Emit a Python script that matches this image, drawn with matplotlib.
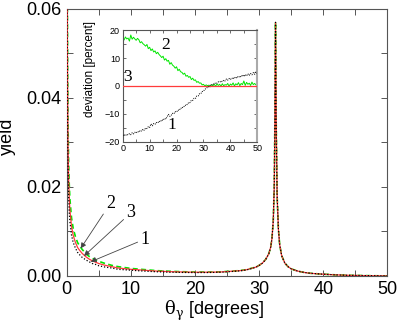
import numpy as np
import matplotlib
matplotlib.use("Agg")
import matplotlib.pyplot as plt
from matplotlib.ticker import MultipleLocator

plt.rcParams['font.family'] = ['Liberation Sans', 'DejaVu Sans']
plt.rcParams['mathtext.fontset'] = 'custom'
plt.rcParams['mathtext.rm'] = 'DejaVu Serif'
plt.rcParams['mathtext.it'] = 'DejaVu Serif'

# ---------------- main-panel data ----------------
theta = [0.05, 0.1, 0.15, 0.2, 0.3, 0.4, 0.5, 0.75, 1.0, 1.35, 1.7, 2.0, 2.4, 3.0, 3.5,
         4.0, 4.5, 5.0, 6.0, 7.0, 8.0, 10.0, 12.0, 14.0, 16.0, 18.0, 20.0, 22.0, 24.0,
         26.0, 27.0, 28.0, 29.0, 29.5, 30.0, 30.5, 31.0, 31.5, 31.8, 32.0, 32.2, 32.35,
         32.45, 32.55, 32.65, 32.8, 33.0, 33.2, 33.5, 34.0, 34.5, 35.0, 36.0, 37.0, 38.0,
         40.0, 42.0, 44.0, 46.0, 48.0, 50.0]

yield3 = [0.075, 0.055, 0.040, 0.030, 0.022, 0.0175, 0.0148, 0.0112, 0.0092, 0.0076, 0.0064,
          0.0058, 0.0051, 0.0043, 0.0038, 0.0034, 0.0031, 0.0028, 0.0024, 0.0021, 0.0018,
          0.0015, 0.0013, 0.0011, 0.00098, 0.0009, 0.00085, 0.00085, 0.0009, 0.0011, 0.0012,
          0.0014, 0.0018, 0.0020, 0.0024, 0.0029, 0.0037, 0.0050, 0.0065, 0.0085, 0.0125,
          0.020, 0.035, 0.057, 0.035, 0.018, 0.0105, 0.0070, 0.0046, 0.0029, 0.0021, 0.0016,
          0.0011, 0.0008, 0.0006, 0.0004, 0.00025, 0.00015, 0.0001, 0.00005, 0.00002]

yield2 = [0.088, 0.064, 0.047, 0.035, 0.0257, 0.0205, 0.0173, 0.0131, 0.0108, 0.0089, 0.0075,
          0.0068, 0.0060, 0.0050, 0.0044, 0.0040, 0.0036, 0.0033, 0.0028, 0.0024, 0.0021,
          0.0017, 0.00145, 0.0012, 0.00106, 0.00096, 0.0009, 0.00089, 0.00093, 0.00112, 0.00122,
          0.00142, 0.00182, 0.00202, 0.0024, 0.0029, 0.0037, 0.0050, 0.0065, 0.0085, 0.0125,
          0.020, 0.035, 0.057, 0.035, 0.018, 0.0105, 0.0070, 0.0046, 0.0029, 0.0021, 0.0016,
          0.0011, 0.0008, 0.0006, 0.0004, 0.00025, 0.00015, 0.0001, 0.00005, 0.00002]

yield1 = [0.062, 0.0453, 0.033, 0.0247, 0.0181, 0.0144, 0.0122, 0.0092, 0.0076, 0.0063, 0.0053,
          0.0048, 0.0042, 0.0036, 0.0032, 0.0028, 0.0026, 0.0023, 0.0020, 0.0018, 0.0015,
          0.0013, 0.0011, 0.00095, 0.00085, 0.0008, 0.00077, 0.00078, 0.00084, 0.00104, 0.00115,
          0.00135, 0.00175, 0.00196, 0.00237, 0.00287, 0.00367, 0.00497, 0.0065, 0.0085, 0.0125,
          0.020, 0.035, 0.057, 0.035, 0.018, 0.0105, 0.0070, 0.0046, 0.0029, 0.0021, 0.0016,
          0.0011, 0.0008, 0.0006, 0.0004, 0.00025, 0.00015, 0.0001, 0.00005, 0.00002]

xticks_main = [0, 10, 20, 30, 40, 50]
yticks_main = [0.00, 0.02, 0.04, 0.06]

# ---------------- inset data ----------------
theta_dev = list(np.linspace(0, 50, 101))
dev2 = [17.4, 16.5, 17.6, 16.9, 17.2, 16.1, 18.3, 16.8, 17.5, 16.9, 16.4, 17.1, 16.6, 15.5,
        15.9, 15.2, 14.8, 14.3, 14.9, 13.4, 13.9, 12.7, 13.3, 12.2, 12.6, 11.6, 12.1, 11.3,
        10.8, 10.2, 10.7, 9.3, 9.8, 8.9, 9.2, 7.8, 8.4, 7.5, 7.1, 6.4, 6.9, 5.5, 6.0, 5.1,
        4.9, 4.2, 4.6, 3.5, 3.8, 3.1, 3.4, 2.3, 2.8, 2.0, 2.2, 1.3, 1.6, 1.0, 1.1, 0.4,
        0.6, 0.0, 0.4, 0.1, 0.3, -0.3, 0.5, 0.1, 0.6, -0.1, 0.7, 0.2, 0.6, -0.1, 0.8,
        0.1, 0.5, 0.3, 0.9, -0.1, 0.7, 0.3, 1.1, 0.0, 0.8, 0.4, 1.2, 0.1, 0.9, 0.5,
        1.8, 0.2, 1.3, 0.6, 1.0, 0.2, 1.4, 0.5, 0.9, 0.4, 0.8]
dev1 = [-17.8, -17.4, -17.9, -17.3, -17.6, -17.1, -17.5, -16.8, -17.2, -16.6, -16.9, -16.3,
        -16.6, -15.9, -16.2, -15.5, -15.9, -15.1, -15.3, -14.6, -14.9, -13.6, -14.3, -13.5,
        -13.8, -13.1, -13.3, -12.6, -12.9, -12.1, -12.4, -11.6, -11.9, -11.0, -10.2, -10.9,
        -10.6, -9.8, -10.0, -9.2, -9.4, -8.6, -8.8, -7.9, -8.1, -7.3, -7.4, -6.6, -6.7, -5.9,
        -6.0, -5.1, -5.2, -4.4, -4.5, -3.6, -3.6, -2.8, -2.8, -2.0, -1.9, -1.1, -1.0, -0.4,
        -0.3, 0.3, 0.2, 0.8, 0.6, 1.2, 1.0, 1.5, 1.3, 1.8, 1.5, 2.1, 1.8, 2.5, 2.1, 2.7,
        2.3, 2.9, 2.5, 3.2, 2.7, 3.4, 3.0, 3.6, 3.2, 4.0, 3.4, 4.1, 3.6, 4.4, 3.8, 4.5,
        4.0, 4.8, 4.2, 5.0, 4.5]
theta_dev3 = [0, 50]
dev3 = [0.0, 0.0]

RED = '#ff3b3b'
GREEN = '#00e600'
FRAME = '#555555'

fig = plt.figure(figsize=(4.01, 3.27), dpi=100)
ax = fig.add_axes([0.1663, 0.156, 0.800, 0.8165])

ax.plot(theta, yield3, color=RED, lw=0.9, ls='-', zorder=3)
ax.plot(theta, yield2, color=GREEN, lw=1.2, ls=(0, (3, 2)), zorder=2)
ax.plot(theta, yield1, color='black', lw=0.9, ls=(0, (1, 1.5)), zorder=4)

ax.set_xlim(0, 50)
ax.set_ylim(0, 0.06)
ax.set_xticks(xticks_main)
ax.set_yticks(yticks_main)
ax.set_yticklabels(['%.2f' % v for v in yticks_main])
ax.xaxis.set_minor_locator(MultipleLocator(5))
ax.yaxis.set_minor_locator(MultipleLocator(0.01))
ax.tick_params(which='both', direction='in', top=True, right=True, labelsize=13,
               color=FRAME, width=0.7, length=4)
for s in ax.spines.values():
    s.set_color(FRAME)
    s.set_linewidth(0.8)
ax.set_xlabel(r'$\mathrm{\theta_\gamma}$ [degrees]', fontsize=13, labelpad=2)
ax.xaxis.set_label_coords(0.459, -0.085)
ax.set_ylabel('yield', fontsize=13, labelpad=6)
ax.yaxis.set_label_coords(-0.158, 0.524)

arr = dict(arrowstyle='-|>', color='#444444', lw=0.6, mutation_scale=8, shrinkA=0, shrinkB=0)
ax.annotate('2', xy=(2.18, 0.0062), xytext=(6.85, 0.0164), fontsize=13, family='Liberation Serif',
            ha='center', va='center', arrowprops=arr)
ax.annotate('3', xy=(2.7, 0.0045), xytext=(10.0, 0.0142), fontsize=13, family='Liberation Serif',
            ha='center', va='center', arrowprops=arr)
ax.annotate('1', xy=(3.75, 0.0032), xytext=(12.2, 0.0083), fontsize=13, family='Liberation Serif',
            ha='center', va='center', arrowprops=arr)

# ---------------- inset ----------------
ins = fig.add_axes([0.306, 0.5667, 0.3357, 0.3407])
ins.plot(theta_dev3, dev3, color=RED, lw=0.9, zorder=3)
ins.plot(theta_dev, dev2, color=GREEN, lw=0.7, zorder=2)
ins.plot(theta_dev, dev1, color='black', lw=0.7, ls=(0, (1, 1.2)), zorder=4)
ins.set_xlim(0, 50)
ins.set_ylim(-20, 20)
ins.set_xticks([0, 10, 20, 30, 40, 50])
ins.set_yticks([-20, -10, 0, 10, 20])
ins.set_yticklabels(['\u221220', '\u221210', '0', '10', '20'])
ins.xaxis.set_minor_locator(MultipleLocator(5))
ins.yaxis.set_minor_locator(MultipleLocator(5))
ins.tick_params(which='both', direction='in', top=True, right=True, labelsize=6.5,
                length=2.5, color=FRAME, width=0.6, pad=2)
for s in ins.spines.values():
    s.set_color(FRAME)
    s.set_linewidth(0.8)
ins.spines['right'].set_color('#aaaaaa')
ins.spines['right'].set_linewidth(1.5)
ins.set_ylabel('deviation [percent]', fontsize=8.5, labelpad=1)
ins.yaxis.set_label_coords(-0.2, 0.65)
ins.text(16.0, 14.7, '2', fontsize=12.5, family='Liberation Serif', ha='center', va='center')
ins.text(1.7, 3.1, '3', fontsize=12.5, family='Liberation Serif', ha='center', va='center')
ins.text(18.2, -14.0, '1', fontsize=12.5, family='Liberation Serif', ha='center', va='center')

fig.savefig('out.png', dpi=100)
